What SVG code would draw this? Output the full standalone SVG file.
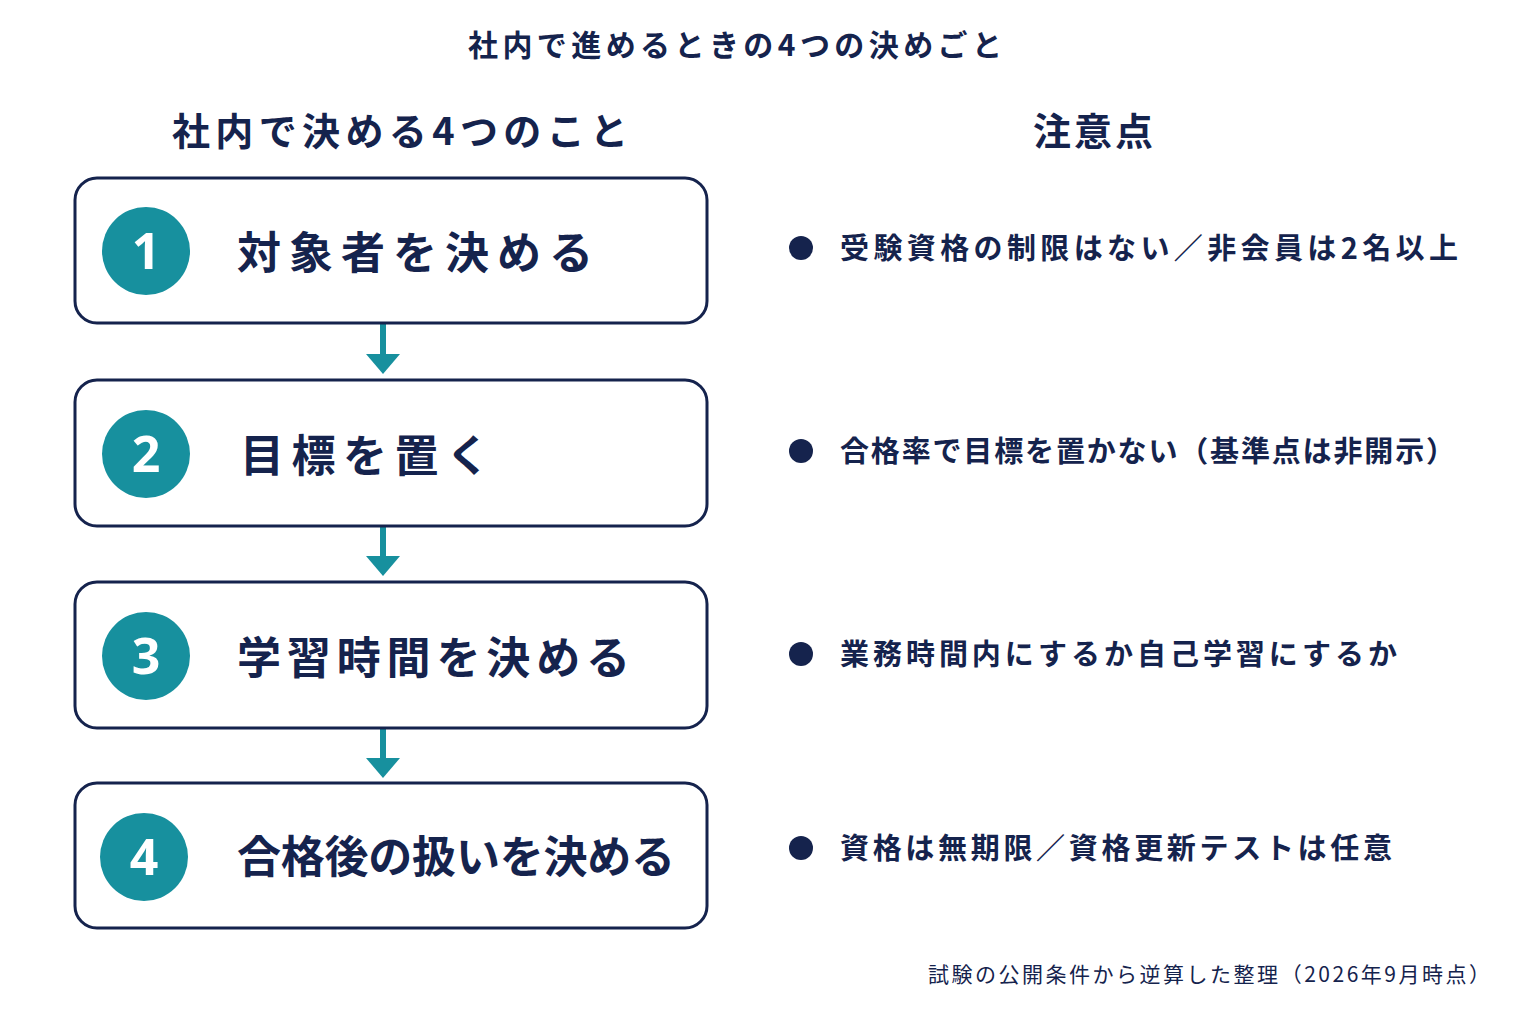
<svg xmlns="http://www.w3.org/2000/svg" width="1536" height="1024" viewBox="0 0 1536 1024">
<style>
text{font-family:"Noto Sans CJK JP","Noto Sans",sans-serif;fill:#15234d}
.box{fill:#fff;stroke:#15234d;stroke-width:3}
.num{fill:#fff;font-size:50px;font-weight:700;font-family:"Noto Sans","Noto Sans CJK JP",sans-serif}
.lbl{font-size:44px;font-weight:700}
.note{font-size:29px;font-weight:700}
.c{fill:#17909e}
.ar{stroke:#17909e;stroke-width:6}
</style>
<rect width="1536" height="1024" fill="#fff"/>
<text x="468" y="56" font-size="30" font-weight="700" textLength="534" lengthAdjust="spacing">社内で進めるときの4つの決めごと</text>
<text x="172" y="145" font-size="38" font-weight="700" textLength="456" lengthAdjust="spacing">社内で決める4つのこと</text>
<text x="1033" y="145" font-size="38" font-weight="700" textLength="120" lengthAdjust="spacing">注意点</text>
<g id="connectors">
<line class="ar" x1="383" y1="324" x2="383" y2="358"/><polygon class="c" points="366,354 400,354 383,374"/>
<line class="ar" x1="383" y1="527" x2="383" y2="560"/><polygon class="c" points="366,556 400,556 383,576"/>
<line class="ar" x1="383" y1="729" x2="383" y2="762"/><polygon class="c" points="366,758 400,758 383,778"/>
</g>
<g id="n1"><rect class="box" x="75" y="178" width="632" height="145" rx="22"/><circle class="c" cx="146" cy="251" r="44"/><text class="num" x="146" y="269" text-anchor="middle">1</text><text class="lbl" x="237" y="269" textLength="356" lengthAdjust="spacing">対象者を決める</text></g>
<g id="n2"><rect class="box" x="75" y="380" width="632" height="146" rx="22"/><circle class="c" cx="146" cy="454" r="44"/><text class="num" x="146" y="472" text-anchor="middle">2</text><text class="lbl" x="240" y="472" textLength="250" lengthAdjust="spacing">目標を置く</text></g>
<g id="n3"><rect class="box" x="75" y="582" width="632" height="146" rx="22"/><circle class="c" cx="146" cy="656" r="44"/><text class="num" x="146" y="674" text-anchor="middle">3</text><text class="lbl" x="237" y="674" textLength="393" lengthAdjust="spacing">学習時間を決める</text></g>
<g id="n4"><rect class="box" x="75" y="783" width="632" height="145" rx="22"/><circle class="c" cx="144" cy="857" r="44"/><text class="num" x="144" y="875" text-anchor="middle">4</text><text class="lbl" x="237" y="873" textLength="438" lengthAdjust="spacing">合格後の扱いを決める</text></g>
<g id="notes">
<circle cx="801" cy="248" r="12" fill="#15234d"/><text class="note" x="840" y="259" textLength="618" lengthAdjust="spacing">受験資格の制限はない／非会員は2名以上</text>
<circle cx="801" cy="451" r="12" fill="#15234d"/><text class="note" x="840" y="462" textLength="615" lengthAdjust="spacing">合格率で目標を置かない（基準点は非開示）</text>
<circle cx="801" cy="654" r="12" fill="#15234d"/><text class="note" x="840" y="665" textLength="557" lengthAdjust="spacing">業務時間内にするか自己学習にするか</text>
<circle cx="801" cy="848" r="12" fill="#15234d"/><text class="note" x="840" y="859" textLength="552" lengthAdjust="spacing">資格は無期限／資格更新テストは任意</text>
</g>
<text x="928" y="982" font-size="21" textLength="562" lengthAdjust="spacing">試験の公開条件から逆算した整理（2026年9月時点）</text>
</svg>
